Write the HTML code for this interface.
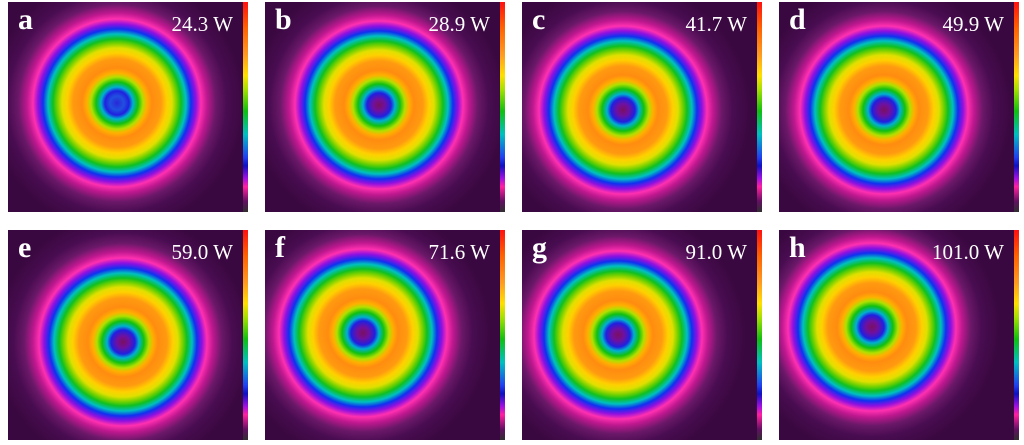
<!DOCTYPE html>
<html><head><meta charset="utf-8"><style>
body{margin:0;width:1024px;height:445px;background:#fff;position:relative;overflow:hidden;font-family:"Liberation Serif",serif}
.p{position:absolute;width:235px;height:210px;background-color:#3a0840;overflow:hidden}
.cb{position:absolute;width:5px;height:210px;background:linear-gradient(to bottom,#ff1010 0%,#ff6000 12%,#ff9a20 25%,#ffe000 35%,#a0e000 42%,#10c010 52%,#00c0c0 63%,#2040f0 74%,#1010c0 78%,#a010e0 84%,#ff20a0 88%,#601060 95%,#303030 100%)}
.l{position:absolute;left:10px;top:1px;color:#fff;font-weight:bold;font-size:30px}
.w{position:absolute;right:10px;top:10px;color:#fff;font-size:21px}
</style></head><body>
<script>
var P=[["a","24.3 W",8,2,109,101,1],["b","28.9 W",265,2,114,103,0],["c","41.7 W",522,2,101,108,0],["d","49.9 W",779,2,105,108,0],
["e","59.0 W",8,230,115,112,0],["f","71.6 W",265,230,98,103,0],["g","91.0 W",522,230,96,105,0],["h","101.0 W",779,230,93,97,0]];
var h="";
P.forEach(function(p){
var c=p[6]?"#2828d8 0px,#2050e0 7px":"#7a1060 0px,#7010a0 6px";
var g="radial-gradient(circle at "+p[4]+"px "+p[5]+"px,"+c+",#2020e0 12px,#00b0d0 16px,#10c010 21px,#b0e000 26px,#ffb000 30px,#ff8c10 35px,#ff9a10 44px,#ffd000 50px,#e0e000 55px,#70d000 60px,#10c020 64px,#00c0c0 69px,#1030f0 74px,#9010e0 79px,#ff30b0 84px,#c01890 90px,#6a1868 99px,#480c50 110px,#3a0840 128px)";
h+='<div class="p" style="left:'+p[2]+'px;top:'+p[3]+'px;background:'+g+'"><div class="l">'+p[0]+'</div><div class="w">'+p[1]+'</div></div>';
h+='<div class="cb" style="left:'+(p[2]+235)+'px;top:'+p[3]+'px"></div>';
});
document.write(h);
</script>
</body></html>
